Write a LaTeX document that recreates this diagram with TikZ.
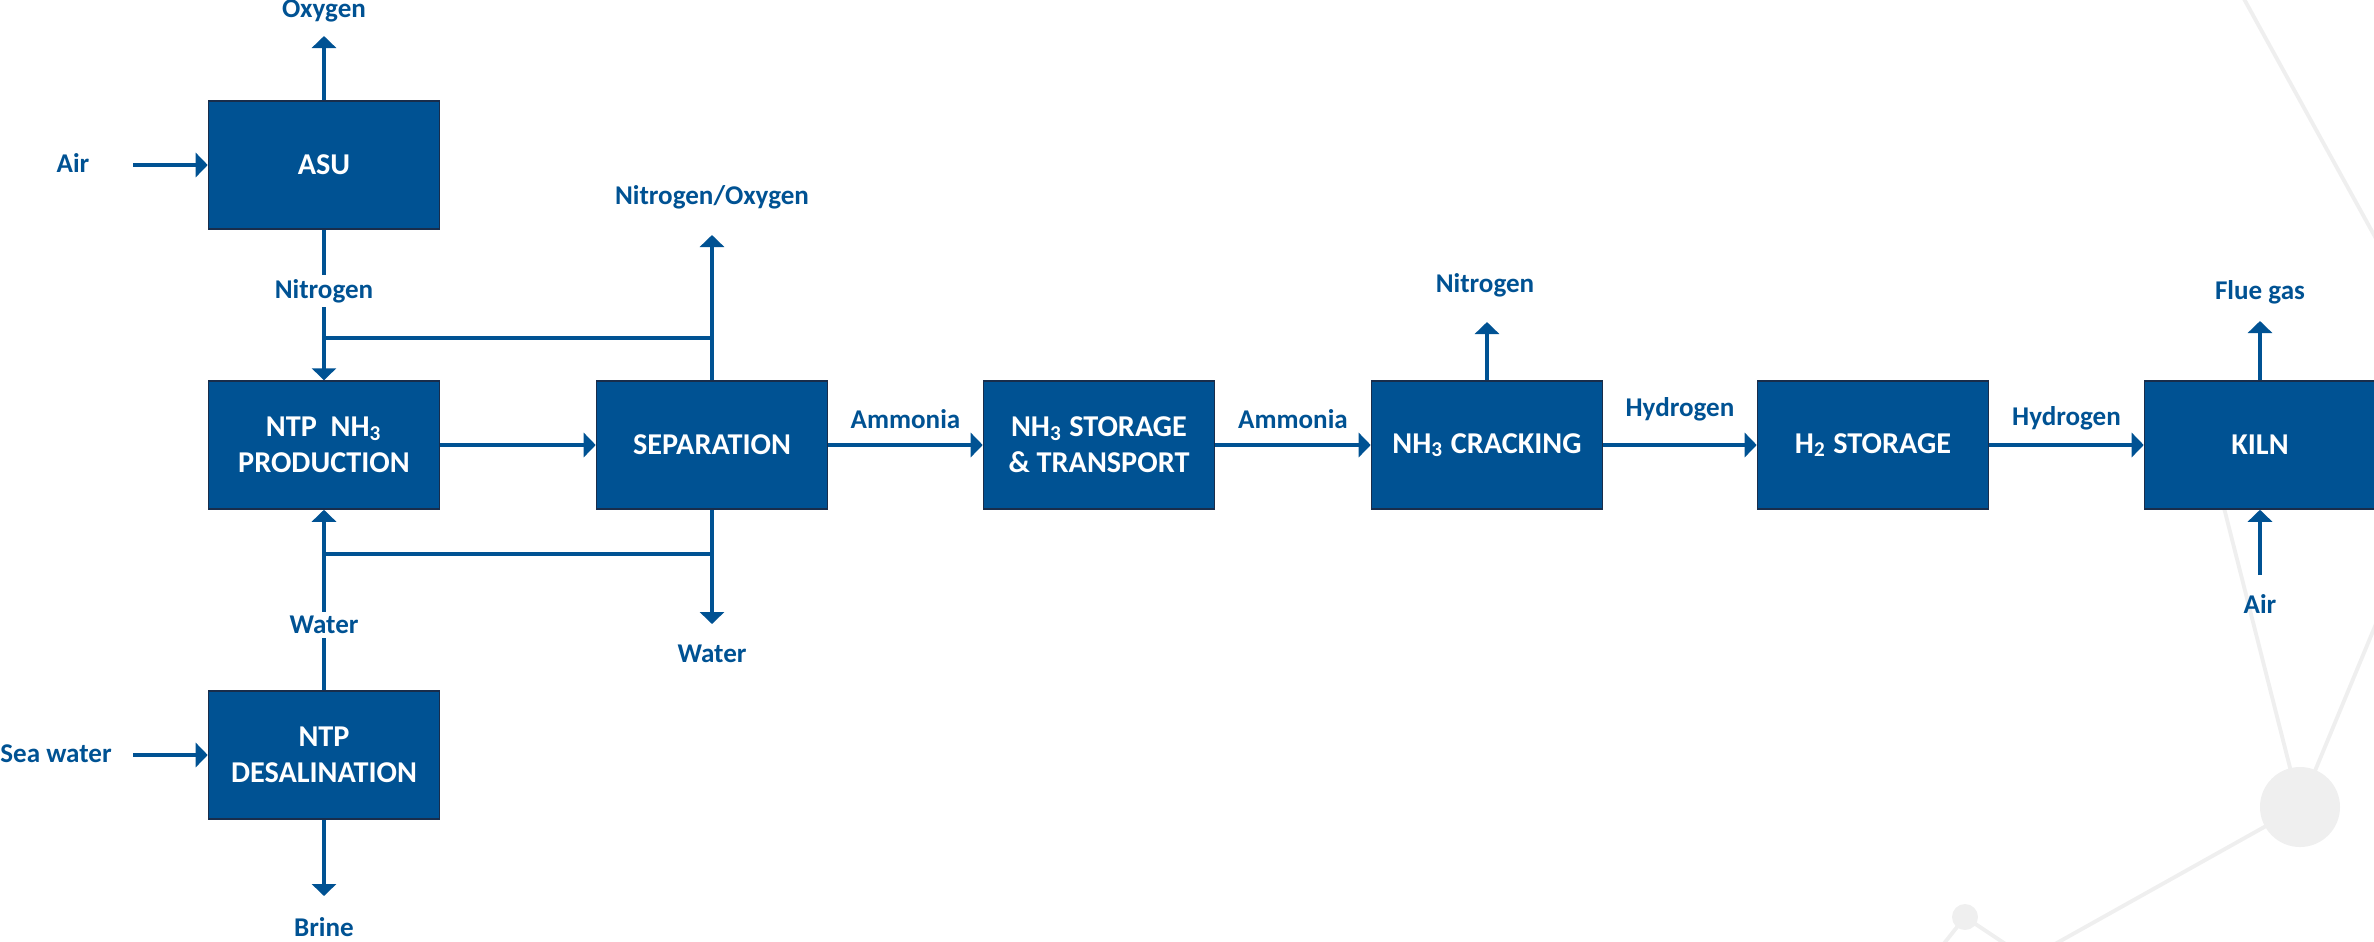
\documentclass[tikz,border=0pt]{standalone}
\usepackage{fontspec}
\setmainfont{Carlito}
\usetikzlibrary{arrows.meta,positioning}
\definecolor{procblue}{RGB}{0,82,147}
\definecolor{procedge}{RGB}{25,45,75}
\definecolor{bggray}{RGB}{239,239,239}
\tikzset{%
	unit/.style     = {draw=procedge, fill=procblue, rectangle, minimum width=2.31cm,
		minimum height=1.28cm, text=white, align=center, inner sep=0pt,
		font=\fontsize{8.6}{10.3}\selectfont\bfseries}, % process box
	tag/.style      = {text=procblue, inner sep=1pt,
		font=\fontsize{7.7}{9.2}\selectfont\bfseries}, % stream name
	stream/.style   = {draw=procblue, line width=1.4pt,
		-{Triangle[width=0.24cm,length=0.12cm]}}, % flow with arrow
	pipe/.style     = {draw=procblue, line width=1.4pt}, % plain branch
	deco/.style     = {draw=bggray, line width=1.1pt} % background
}

\begin{document}
\begin{tikzpicture}[x=0.01cm, y=-0.01cm]
			\useasboundingbox (0,0) rectangle (2374,941);
			% background molecule lines
			\draw[deco] (2238,-12) -- (2390,264);
			\draw[deco] (2222,500) -- (2300,807);
			\draw[deco] (2300,807) -- (2400,566);
			\draw[deco] (2300,807) -- (2030,958);
			\draw[deco] (1938,951) -- (1965,917) -- (2016,951);
			\fill[bggray] (2300,807) circle (0.4cm);
			\fill[bggray] (1965,917) circle (0.13cm);

			\node[unit] (asu) at (324,165) {ASU};
			\node[unit] (ntp) at (324,445) {NTP\ \ NH\textsubscript{3}\\PRODUCTION};
			\node[unit] (desal) at (324,755) {NTP\\DESALINATION};
			\node[unit] (sep) at (712,445) {SEPARATION};
			\node[unit] (store) at (1099,445) {NH\textsubscript{3} STORAGE\\\& TRANSPORT};
			\node[unit] (crack) at (1487,445) {NH\textsubscript{3} CRACKING};
			\node[unit] (h2st) at (1873,445) {H\textsubscript{2} STORAGE};
			\node[unit] (kiln) at (2260,445) {KILN};

			\node[tag] (o2) at (324,11) {Oxygen};
			\node[tag] (air1) at (73,163) {Air};
			\node[tag] (n2) at (324,291) {Nitrogen};
			\node[tag] (nox) at (712,197) {Nitrogen/Oxygen};
			\node[tag] (h2oa) at (324,625) {Water};
			\node[tag] (h2ob) at (712,654) {Water};
			\node[tag] (sw) at (56,754) {Sea water};
			\node[tag] (brine) at (324,927) {Brine};
			\node[tag] (n2b) at (1485,285) {Nitrogen};
			\node[tag] (flue) at (2260,292) {Flue gas};
			\node[tag] (air2) at (2260,604) {Air};

			\coordinate (o2end) at (324,36);
			\coordinate (air1in) at (133,165);
			\coordinate (swin) at (133,755);
			\coordinate (brineend) at (324,896);
			\coordinate (noxend) at (712,235);
			\coordinate (h2obend) at (712,624);
			\coordinate (n2bend) at (1487,322);
			\coordinate (flueend) at (2260,321);
			\coordinate (air2in) at (2260,575);
			\coordinate (ja) at (324,338);
			\coordinate (jb) at (712,338);
			\coordinate (jc) at (324,554);
			\coordinate (jd) at (712,554);

			\draw[stream] (asu) -- (o2end);
			\draw[stream] (air1in) -- (asu);
			\draw[pipe] (asu) -- (n2);
			\draw[stream] (n2) -- (ntp);
			\draw[pipe] (ja) -- (jb);
			\draw[stream] (sep) -- (noxend);
			\draw[stream] (ntp) -- (sep);
			\draw[pipe] (jc) -- (jd);
			\draw[stream] (sep) -- (h2obend);
			\draw[pipe] (desal) -- (h2oa);
			\draw[stream] (h2oa) -- (ntp);
			\draw[stream] (swin) -- (desal);
			\draw[stream] (desal) -- (brineend);
			\draw[stream] (sep) -- node[tag, above=3pt] (amm1) {Ammonia} (store);
			\draw[stream] (store) -- node[tag, above=3pt] (amm2) {Ammonia} (crack);
			\draw[stream] (crack) -- (n2bend);
			\draw[stream] (crack) -- node[tag, above=5pt] (hyd1) {Hydrogen} (h2st);
			\draw[stream] (h2st) -- node[tag, above=2.5pt] (hyd2) {Hydrogen} (kiln);
			\draw[stream] (kiln) -- (flueend);
			\draw[stream] (air2in) -- (kiln);
		\end{tikzpicture}
\end{document}
